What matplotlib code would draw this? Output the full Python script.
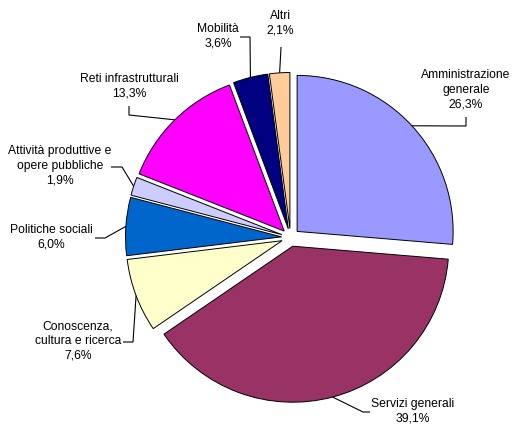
import numpy as np
import matplotlib
matplotlib.use("Agg")
import matplotlib.pyplot as plt

categories = ["Amministrazione\ngenerale", "Servizi generali", "Conoscenza,\ncultura e ricerca",
              "Politiche sociali", "Attività produttive e\nopere pubbliche",
              "Reti infrastrutturali", "Mobilità", "Altri"]
values = [26.3, 39.1, 7.6, 6.0, 1.9, 13.3, 3.6, 2.1]
value_labels = ["26,3%", "39,1%", "7,6%", "6,0%", "1,9%", "13,3%", "3,6%", "2,1%"]
colors = ["#9999FF", "#993366", "#FFFFCC", "#0066CC", "#CCCCFF", "#FF00FF", "#000080", "#FFCC99"]

W, H = 514, 424
fig = plt.figure(figsize=(W / 100, H / 100), dpi=100)
ax = fig.add_axes([0, 0, 1, 1])

cx, cy = 290.5, H - 237.5
R = 156.0
expl = 9.0  # data units (pixels)

wedges, _ = ax.pie(values, colors=colors, startangle=90, counterclock=False,
                   center=(cx, cy), radius=R, explode=[expl] * len(values),
                   wedgeprops=dict(edgecolor="black", linewidth=0.7), frame=False)
ax.set_xlim(0, W)
ax.set_ylim(0, H)
ax.set_aspect("equal")
ax.axis("off")

# layout: text centre (px from top-left), line start near text, elbow
layout = [
    ((466, 90), (466, 117), (466, 126)),
    ((413, 411), (370, 412), (363, 412)),
    ((78, 341), (123, 342), (133, 342)),
    ((51, 237), (95, 238), (105, 238)),
    ((60, 166), (111, 167), (122, 167)),
    ((129, 86), (129, 106), (129, 115)),
    ((218, 36), (240, 37), (250, 37)),
    ((280, 23), (281, 47), (281, 48)),
]

for w, cat, vl, (tp, ls, el) in zip(wedges, categories, value_labels, layout):
    mid = np.deg2rad((w.theta1 + w.theta2) / 2)
    wc = w.center
    ex = wc[0] + w.r * np.cos(mid)
    ey = wc[1] + w.r * np.sin(mid)
    ax.plot([ls[0], el[0], ex], [H - ls[1], H - el[1], ey], color="black", lw=0.8,
            solid_capstyle="butt")
    ax.text(tp[0], H - tp[1], cat + "\n" + vl, ha="center", va="center",
            fontsize=8.7, family="Liberation Sans", linespacing=1.32)

fig.savefig("out.png", dpi=100)
